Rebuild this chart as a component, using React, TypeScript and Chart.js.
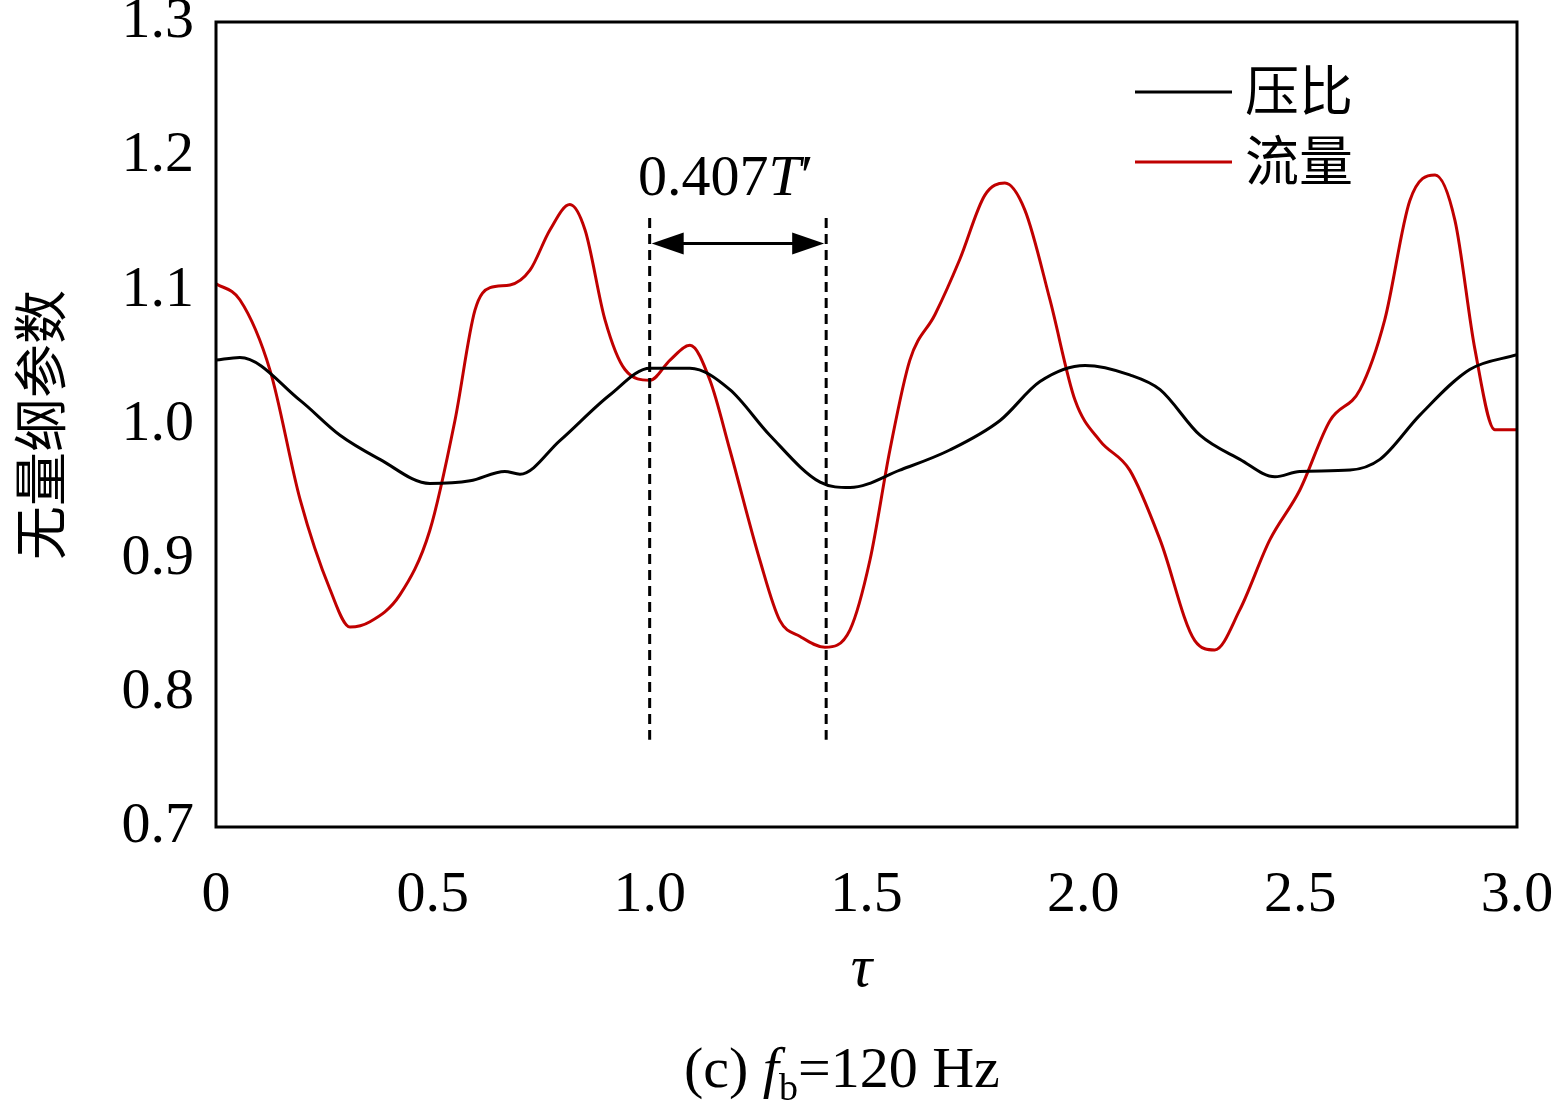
import React, { useEffect, useRef } from "react";
import { Chart, registerables } from "chart.js";
Chart.register(...registerables);

const xTicks = [0, 0.5, 1.0, 1.5, 2.0, 2.5, 3.0];
const xTickLabels = ["0", "0.5", "1.0", "1.5", "2.0", "2.5", "3.0"];
const yTicks = [0.7, 0.8, 0.9, 1.0, 1.1, 1.2, 1.3];
const yTickLabels = ["0.7", "0.8", "0.9", "1.0", "1.1", "1.2", "1.3"];

const pressureTau = [0,0.055,0.194,0.286,0.378,0.493,0.586,0.666,0.701,0.793,0.908,1.001,1.093,1.185,1.277,1.393,1.462,1.577,1.692,1.808,1.900,2.004,2.107,2.177,2.269,2.361,2.442,2.499,2.615,2.684,2.776,2.891,3.0];
const pressureVal = [1.048,1.05,1.018,0.992,0.974,0.956,0.958,0.965,0.963,0.988,1.022,1.042,1.042,1.026,0.992,0.957,0.953,0.966,0.981,1.003,1.032,1.044,1.037,1.026,0.992,0.974,0.961,0.965,0.966,0.974,1.007,1.041,1.052];
const flowTau = [0,0.055,0.125,0.194,0.263,0.309,0.355,0.424,0.493,0.551,0.597,0.632,0.678,0.724,0.770,0.816,0.851,0.897,0.943,1.001,1.047,1.093,1.139,1.185,1.254,1.300,1.347,1.404,1.462,1.508,1.554,1.600,1.658,1.715,1.773,1.819,1.865,1.923,1.981,2.038,2.107,2.177,2.257,2.303,2.361,2.430,2.499,2.569,2.638,2.695,2.753,2.811,2.857,2.903,2.949,3.0];
const flowVal = [1.105,1.093,1.04,0.944,0.877,0.849,0.853,0.873,0.921,1.003,1.085,1.102,1.104,1.115,1.145,1.164,1.145,1.078,1.041,1.033,1.048,1.059,1.033,0.981,0.899,0.854,0.842,0.834,0.847,0.899,0.981,1.048,1.082,1.123,1.171,1.180,1.160,1.093,1.018,0.988,0.966,0.914,0.839,0.832,0.862,0.914,0.951,1.003,1.026,1.078,1.167,1.186,1.152,1.056,0.996,0.996];

const seriesNames = ["压比", "流量"];
const markA = 1.0, markB = 1.407, markTop = 1.154, markBottom = 0.765, arrowY = 1.135;

const SERIF = '"Liberation Serif", "Times New Roman", serif';
const CJK = '"Noto Sans CJK SC", sans-serif';

export default function App() {
  const ref = useRef<HTMLCanvasElement>(null);
  useEffect(() => {
    const deco = {
      id: "deco",
      afterDraw(c: any) {
        const ctx = c.ctx, xs = c.scales.x, ys = c.scales.y, a = c.chartArea;
        ctx.save();
        ctx.strokeStyle = "#000"; ctx.lineWidth = 3;
        ctx.strokeRect(a.left, a.top, a.right - a.left, a.bottom - a.top);
        ctx.fillStyle = "#000";
        ctx.font = `58px ${SERIF}`;
        ctx.textAlign = "center"; ctx.textBaseline = "top";
        xTicks.forEach((t, i) => ctx.fillText(xTickLabels[i], xs.getPixelForValue(t), a.bottom + 40));
        ctx.textAlign = "right"; ctx.textBaseline = "middle";
        yTicks.forEach((t, i) => ctx.fillText(yTickLabels[i], a.left - 22, ys.getPixelForValue(t)));
        ctx.font = `italic 60px ${SERIF}`; ctx.textAlign = "center";
        ctx.fillText("τ", (a.left + a.right) / 2 - 5, 970);
        // caption
        ctx.font = `58px ${SERIF}`; ctx.textAlign = "left";
        let cx = 684; const cy = 1072;
        ctx.fillText("(c) ", cx, cy); cx += ctx.measureText("(c) ").width;
        ctx.font = `italic 58px ${SERIF}`; ctx.fillText("f", cx, cy); cx += ctx.measureText("f").width;
        ctx.font = `38px ${SERIF}`; ctx.fillText("b", cx, cy + 18); cx += ctx.measureText("b").width;
        ctx.font = `58px ${SERIF}`; ctx.fillText("=120 Hz", cx, cy);
        // y title
        ctx.save(); ctx.translate(40, 425); ctx.rotate(-Math.PI / 2);
        ctx.font = `54px ${CJK}`; ctx.textAlign = "center"; ctx.fillText("无量纲参数", 0, 0); ctx.restore();
        // dashed marks
        const xa = xs.getPixelForValue(markA), xb = xs.getPixelForValue(markB);
        ctx.setLineDash([10, 6]); ctx.lineWidth = 3;
        [xa, xb].forEach((x) => { ctx.beginPath(); ctx.moveTo(x, ys.getPixelForValue(markTop)); ctx.lineTo(x, ys.getPixelForValue(markBottom)); ctx.stroke(); });
        ctx.setLineDash([]);
        const ay = ys.getPixelForValue(arrowY);
        ctx.lineWidth = 3; ctx.beginPath(); ctx.moveTo(xa + 20, ay); ctx.lineTo(xb - 20, ay); ctx.stroke();
        [[xa, 1], [xb, -1]].forEach(([x, d]) => { ctx.beginPath(); ctx.moveTo(x + 2 * d, ay); ctx.lineTo(x + 34 * d, ay - 11); ctx.lineTo(x + 34 * d, ay + 11); ctx.closePath(); ctx.fill(); });
        ctx.font = `58px ${SERIF}`; ctx.textAlign = "left";
        let tx = 638; ctx.fillText("0.407", tx, 180); tx += ctx.measureText("0.407").width;
        ctx.font = `italic 58px ${SERIF}`; ctx.fillText("T", tx, 180); tx += ctx.measureText("T").width;
        ctx.font = `58px ${SERIF}`; ctx.fillText("′", tx, 180);
        // legend
        [["#000", 92], ["#c00000", 162]].forEach(([col, y], i) => {
          ctx.strokeStyle = col as string; ctx.lineWidth = 3;
          ctx.beginPath(); ctx.moveTo(1135, y as number); ctx.lineTo(1232, y as number); ctx.stroke();
          ctx.font = `54px ${CJK}`; ctx.fillStyle = "#000"; ctx.fillText(seriesNames[i], 1245, (y as number) - 2);
        });
        ctx.restore();
      },
    };
    const chart = new Chart(ref.current!, {
      type: "line",
      data: {
        datasets: [
          { label: seriesNames[0], data: pressureTau.map((t, i) => ({ x: t, y: pressureVal[i] })), borderColor: "#000", borderWidth: 3, pointRadius: 0, cubicInterpolationMode: "monotone" },
          { label: seriesNames[1], data: flowTau.map((t, i) => ({ x: t, y: flowVal[i] })), borderColor: "#c00000", borderWidth: 3, pointRadius: 0, cubicInterpolationMode: "monotone" },
        ],
      },
      options: {
        animation: false, responsive: false,
        layout: { padding: { left: 216, right: 38, top: 22, bottom: 289 } },
        plugins: { legend: { display: false }, tooltip: { enabled: false } },
        scales: {
          x: { type: "linear", min: 0, max: 3, display: false },
          y: { min: 0.7, max: 1.3, display: false },
        },
      },
      plugins: [deco],
    } as any);
    return () => chart.destroy();
  }, []);
  return <canvas ref={ref} width={1555} height={1116} style={{ position: "absolute", left: 0, top: 0, background: "#fff" }} />;
}
